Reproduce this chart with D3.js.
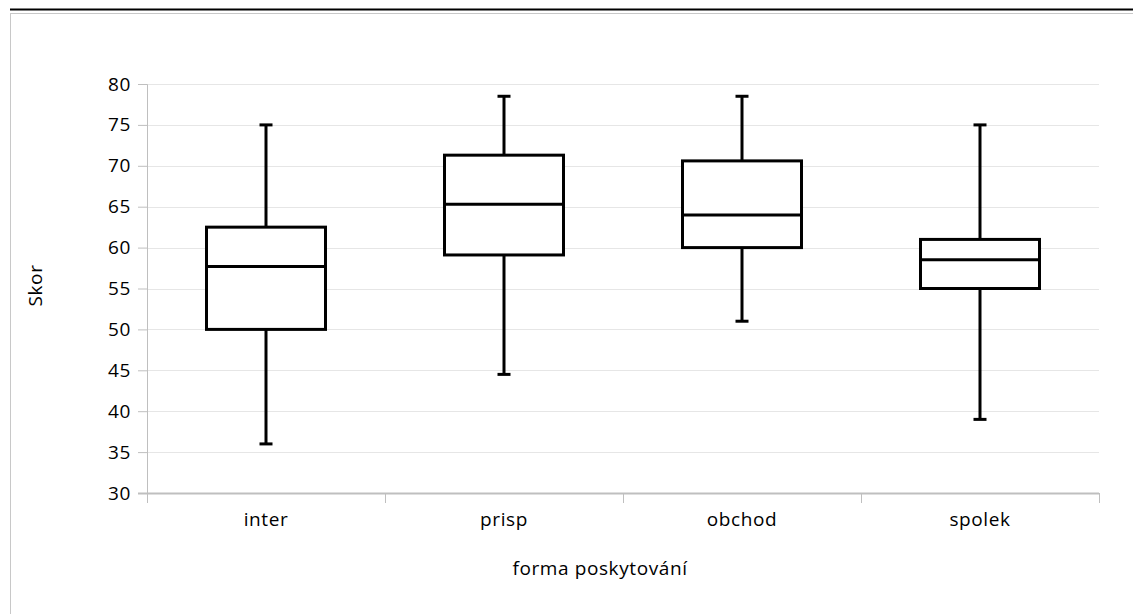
<!DOCTYPE html>
<html>
<head>
<meta charset="utf-8">
<script src="https://cdn.jsdelivr.net/npm/d3@7"></script>
<style>
  body { margin: 0; background: #fff; }
  text { font-family: "Open Sans", "Noto Sans", sans-serif; fill: #000; letter-spacing: 0.6px; }
</style>
</head>
<body>
<div id="chart-area"></div>
<script>
/* data */
const categories = ["inter", "prisp", "obchod", "spolek"]
const whiskerLow  = [36, 44.5, 51, 39]
const quartile1   = [50, 59.1, 60, 55]
const medians     = [57.7, 65.3, 64, 58.5]
const quartile3   = [62.5, 71.3, 70.6, 61]
const whiskerHigh = [75, 78.5, 78.5, 75]
const yTicks = [30, 35, 40, 45, 50, 55, 60, 65, 70, 75, 80]

const boxes = categories.map((c, i) => ({
    cat: c, lo: whiskerLow[i], q1: quartile1[i], med: medians[i], q3: quartile3[i], hi: whiskerHigh[i]
}))

/* chart area */
const W = 1133, H = 614
const MARGIN = { LEFT: 147, RIGHT: 34, TOP: 84, BOTTOM: 121 }
const WIDTH = W - MARGIN.LEFT - MARGIN.RIGHT
const HEIGHT = H - MARGIN.TOP - MARGIN.BOTTOM

const svg = d3.select("#chart-area").append("svg")
    .attr("width", W)
    .attr("height", H)

// top rule and outer frame
svg.append("line")
    .attr("x1", 10).attr("x2", W).attr("y1", 9.5).attr("y2", 9.5)
    .attr("stroke", "#000").attr("stroke-width", 2)
svg.append("rect")
    .attr("x", 10.5).attr("y", 13.5)
    .attr("width", W + 10).attr("height", H)
    .attr("fill", "none").attr("stroke", "#c8c8c8")

const g = svg.append("g")
    .attr("transform", `translate(${MARGIN.LEFT}, ${MARGIN.TOP})`)

// scales
const x = d3.scaleBand().domain(categories).range([0, WIDTH])
const y = d3.scaleLinear().domain([30, 80]).range([HEIGHT, 0])

// gridlines
g.selectAll(".grid").data(yTicks.slice(1)).enter().append("line")
    .attr("class", "grid")
    .attr("x1", 0).attr("x2", WIDTH)
    .attr("y1", d => Math.round(y(d)) + 0.5).attr("y2", d => Math.round(y(d)) + 0.5)
    .attr("stroke", "#e6e6e6")

// y axis
const yAxis = g.append("g")
    .call(d3.axisLeft(y).tickValues(yTicks).tickSize(9).tickPadding(7))
yAxis.select(".domain").attr("stroke", "#bfbfbf")
yAxis.selectAll(".tick line").attr("stroke", "#bfbfbf")
yAxis.selectAll(".tick text").style("font-size", "19px")

// x axis, ticks between categories
const xAxis = g.append("g").attr("transform", `translate(0, ${HEIGHT})`)
xAxis.append("line")
    .attr("x1", -9).attr("x2", WIDTH).attr("y1", 0.5).attr("y2", 0.5)
    .attr("stroke", "#bfbfbf").attr("stroke-width", 2)
xAxis.selectAll(".sep").data(categories.concat(["end"])).enter().append("line")
    .attr("class", "sep")
    .attr("x1", (d, i) => Math.round(i * x.step()) + 0.5)
    .attr("x2", (d, i) => Math.round(i * x.step()) + 0.5)
    .attr("y1", 0).attr("y2", 10)
    .attr("stroke", "#bfbfbf")
xAxis.selectAll(".cat").data(categories).enter().append("text")
    .attr("class", "cat")
    .attr("x", d => x(d) + x.bandwidth() / 2)
    .attr("y", 33)
    .attr("text-anchor", "middle")
    .style("font-size", "19px")
    .text(d => d)

// axis titles
g.append("text")
    .attr("transform", `translate(${35 - MARGIN.LEFT}, ${HEIGHT / 2 - 3}) rotate(-90)`)
    .attr("text-anchor", "middle")
    .attr("dy", "0.35em")
    .style("font-size", "19px")
    .text("Skor")
svg.append("text")
    .attr("x", 600).attr("y", 575)
    .attr("text-anchor", "middle")
    .style("font-size", "19px")
    .text("forma poskytování")

// boxes
const bw = x.bandwidth() / 2
const cap = 13
const item = g.selectAll(".box").data(boxes).enter().append("g")
    .attr("class", "box")
    .attr("transform", d => `translate(${x(d.cat) + x.bandwidth() / 2}, 0)`)

item.append("line")
    .attr("x1", 0).attr("x2", 0)
    .attr("y1", d => y(d.hi)).attr("y2", d => y(d.q3))
    .attr("stroke", "#000").attr("stroke-width", 3)
item.append("line")
    .attr("x1", 0).attr("x2", 0)
    .attr("y1", d => y(d.q1)).attr("y2", d => y(d.lo))
    .attr("stroke", "#000").attr("stroke-width", 3)
item.append("line")
    .attr("x1", -cap / 2).attr("x2", cap / 2)
    .attr("y1", d => y(d.hi)).attr("y2", d => y(d.hi))
    .attr("stroke", "#000").attr("stroke-width", 3)
item.append("line")
    .attr("x1", -cap / 2).attr("x2", cap / 2)
    .attr("y1", d => y(d.lo)).attr("y2", d => y(d.lo))
    .attr("stroke", "#000").attr("stroke-width", 3)
item.append("rect")
    .attr("x", -bw / 2).attr("width", bw)
    .attr("y", d => y(d.q3)).attr("height", d => y(d.q1) - y(d.q3))
    .attr("fill", "#fff").attr("stroke", "#000").attr("stroke-width", 3)
item.append("line")
    .attr("x1", -bw / 2).attr("x2", bw / 2)
    .attr("y1", d => y(d.med)).attr("y2", d => y(d.med))
    .attr("stroke", "#000").attr("stroke-width", 3)
</script>
</body>
</html>
